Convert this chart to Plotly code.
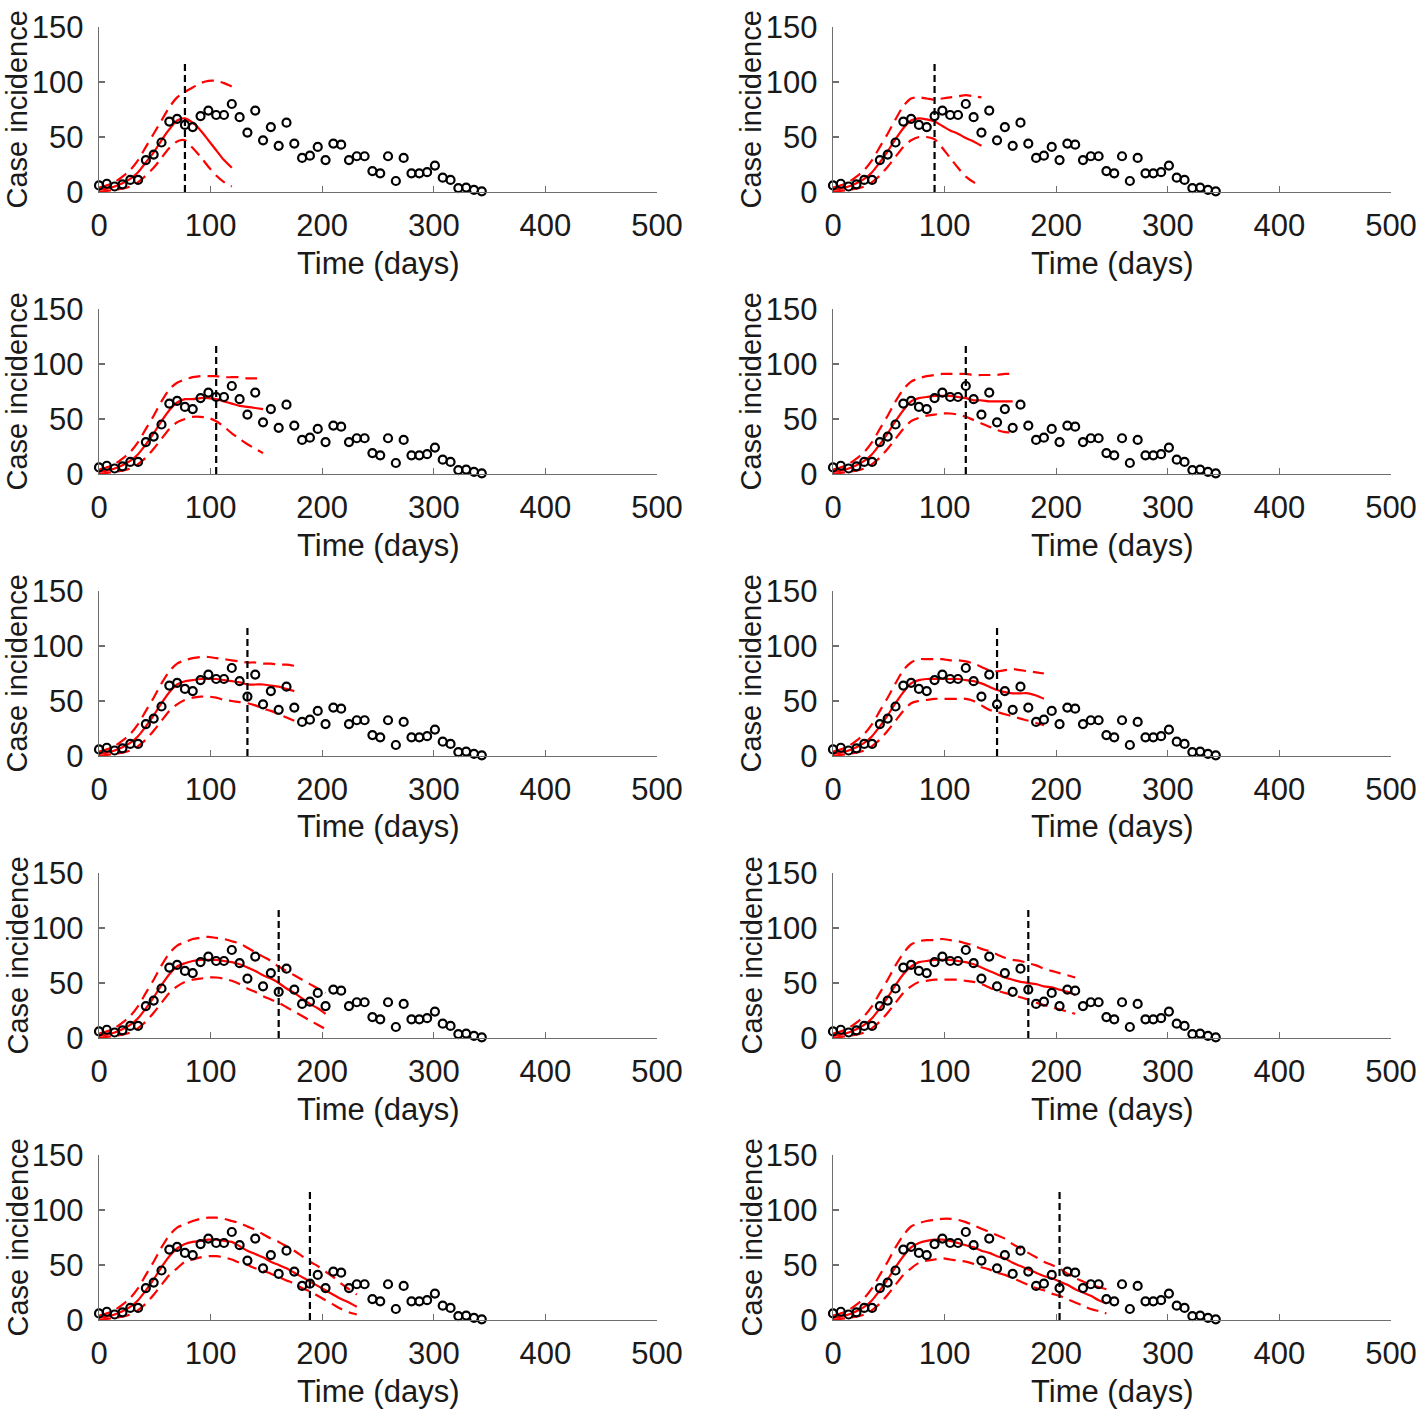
import plotly.graph_objects as go

# ---------------- data ----------------
days = [0, 7, 14, 21, 28, 35, 42, 49, 56, 63, 70, 77, 84, 91, 98, 105, 112, 119,
        126, 133, 140, 147, 154, 161, 168, 175, 182, 189, 196, 203, 210, 217, 224,
        231, 238, 245, 252, 259, 266, 273, 280, 287, 294, 301, 308, 315, 322, 329,
        336, 343]

cases = [6, 7.5, 5, 7, 11, 11, 29, 34, 45, 64, 66.5, 61, 59, 69, 74, 70, 70, 80,
         68, 54, 74, 47, 59, 42, 63, 44, 31, 33, 41, 29, 44, 43, 29, 32.5, 32.5,
         19, 17, 32.5, 10, 31, 17, 17, 18, 24, 13, 11, 3.6, 4, 2, 0.6]

forecast_start = [77, 91, 105, 119, 133, 147, 161, 175, 189, 203]
vline_top = 120

fit_mean = [
    [2, 3, 5, 8, 12, 18, 27, 36, 47, 57, 65, 67, 63, 56, 47, 38, 29, 22],
    [2, 3, 5, 8, 12, 18, 27, 37, 48, 58, 65, 67, 66, 64, 60, 56, 53, 49, 46, 42],
    [2, 3, 5, 8, 12, 18, 27, 37, 48, 58, 65, 68, 68, 69, 69, 68, 66, 64, 62, 61, 60, 59],
    [2, 3, 5, 8, 12, 18, 27, 37, 48, 58, 66, 69, 70, 71, 71, 71, 70, 69, 67, 67, 66, 66, 66, 66],
    [2, 3, 5, 8, 12, 18, 27, 37, 48, 58, 65, 68, 69, 70, 70, 70, 69, 68, 67, 65, 65, 65, 64, 63, 61, 59],
    [2, 3, 5, 8, 12, 18, 27, 37, 48, 58, 66, 69, 70, 70, 70, 70, 70, 69, 68, 66, 63, 60, 58, 57, 57, 57, 55, 52],
    [2, 3, 5, 8, 12, 18, 27, 37, 48, 58, 65, 68, 70, 71, 71, 71, 70, 69, 67, 64, 61, 57, 54, 50, 45, 41, 36, 31, 27, 22],
    [2, 3, 5, 8, 12, 18, 27, 37, 48, 58, 65, 69, 70, 71, 71, 71, 70, 69, 67, 64, 61, 58, 55, 53, 51, 50, 49, 47, 46, 44, 42, 39],
    [2, 3, 5, 8, 12, 18, 27, 37, 48, 58, 65, 69, 71, 72, 73, 73, 72, 71, 67, 63, 60, 57, 53, 50, 47, 43, 39, 35, 31, 27, 23, 19, 16, 12],
    [2, 3, 5, 8, 12, 18, 27, 37, 48, 58, 66, 70, 72, 73, 73, 72, 70, 68, 66, 63, 61, 58, 56, 52, 49, 46, 43, 40, 38, 35, 32, 28, 25, 22, 18, 15],
]

fit_lo = [
    [0, 1, 2, 3, 5, 9, 15, 22, 31, 40, 46, 47, 40, 32, 23, 15, 9, 5],
    [0, 1, 2, 3, 5, 9, 15, 23, 32, 41, 47, 50, 50, 48, 40, 31, 22, 14, 9, 5],
    [0, 1, 2, 3, 5, 9, 15, 23, 32, 41, 47, 50, 52, 52, 51, 48, 43, 37, 32, 27, 23, 19],
    [0, 1, 2, 3, 5, 9, 15, 23, 32, 41, 48, 51, 53, 54, 55, 55, 54, 52, 49, 46, 43, 40, 38, 38],
    [0, 1, 2, 3, 5, 9, 15, 23, 32, 41, 47, 51, 53, 54, 54, 53, 51, 50, 49, 48, 46, 43, 41, 38, 35, 32],
    [0, 1, 2, 3, 5, 9, 15, 23, 32, 41, 48, 50, 51, 52, 52, 52, 52, 52, 50, 46, 42, 40, 38, 36, 34, 32, 30, 28],
    [0, 1, 2, 3, 5, 9, 15, 23, 32, 41, 47, 51, 53, 54, 55, 55, 54, 52, 49, 45, 42, 38, 35, 32, 28, 24, 20, 16, 12, 8],
    [0, 1, 2, 3, 5, 9, 15, 23, 32, 41, 47, 51, 52, 53, 53, 53, 53, 52, 51, 49, 46, 43, 41, 39, 37, 35, 32, 30, 28, 26, 24, 22],
    [0, 1, 2, 3, 5, 9, 15, 23, 32, 41, 47, 53, 55, 57, 58, 58, 57, 55, 52, 50, 47, 45, 42, 39, 36, 33, 29, 26, 22, 18, 14, 10, 7, 5],
    [0, 1, 2, 3, 5, 9, 15, 23, 32, 41, 47, 52, 54, 55, 56, 55, 54, 53, 51, 48, 46, 43, 41, 38, 35, 32, 29, 27, 24, 22, 19, 16, 13, 10, 8, 6],
]

fit_hi = [
    [4, 6, 9, 14, 20, 29, 41, 53, 65, 77, 86, 91, 95, 99, 101, 101, 99, 96],
    [4, 6, 9, 14, 20, 29, 41, 53, 66, 78, 85, 86, 85, 84, 85, 86, 87, 88, 87, 86],
    [4, 6, 9, 14, 20, 29, 41, 53, 66, 77, 83, 86, 88, 89, 89, 89, 88, 88, 88, 87, 87, 87],
    [4, 6, 9, 14, 20, 29, 41, 53, 66, 77, 84, 87, 89, 90, 91, 91, 91, 91, 90, 90, 90, 90, 91, 91],
    [4, 6, 9, 14, 20, 29, 41, 53, 66, 77, 84, 87, 89, 90, 90, 89, 88, 87, 86, 85, 85, 84, 84, 83, 83, 82],
    [4, 6, 9, 14, 20, 29, 41, 53, 66, 78, 85, 88, 88, 88, 88, 87, 87, 86, 84, 81, 78, 77, 78, 79, 78, 77, 76, 75],
    [4, 6, 9, 14, 20, 29, 41, 53, 66, 77, 84, 87, 90, 91, 92, 91, 90, 88, 86, 82, 78, 74, 70, 65, 61, 57, 53, 49, 45, 41],
    [4, 6, 9, 14, 20, 29, 41, 53, 66, 77, 85, 88, 89, 89, 90, 89, 88, 86, 84, 81, 79, 76, 73, 71, 70, 68, 66, 63, 61, 59, 57, 55],
    [4, 6, 9, 14, 20, 29, 41, 53, 66, 77, 84, 87, 90, 92, 93, 93, 92, 90, 88, 85, 82, 78, 74, 71, 67, 63, 58, 53, 49, 44, 39, 33, 28, 23],
    [4, 6, 9, 14, 20, 29, 41, 53, 66, 77, 85, 88, 90, 91, 92, 92, 91, 89, 86, 83, 80, 77, 74, 69, 65, 61, 57, 53, 50, 47, 42, 38, 35, 32, 30, 28],
]

x_ticks = [0, 100, 200, 300, 400, 500]
y_ticks = [0, 50, 100, 150]
x_title = "Time (days)"
y_title = "Case incidence"

# ---------------- layout geometry ----------------
W, H = 1418, 1409
col_left_px = [99, 833]
col_right_px = [657, 1391]
row_top_px = [27, 309, 591, 873, 1155]
row_bot_px = [192, 474, 756, 1038, 1320]

FONT = "Liberation Sans, Arial, Helvetica, sans-serif"
FS = 31
FS_YT = 29
RED = "#ff0000"

fig = go.Figure()
layout = dict(
    template="none",
    width=W, height=H, margin=dict(l=0, r=0, t=0, b=0, autoexpand=False),
    paper_bgcolor="white", plot_bgcolor="white", showlegend=False,
    hovermode=False,
    font=dict(family=FONT, size=FS, color="#1a1a1a"),
)
annotations = []

for k in range(10):
    r, c = k // 2, k % 2
    idx = k + 1
    xa = "x" if idx == 1 else f"x{idx}"
    ya = "y" if idx == 1 else f"y{idx}"
    n = len(fit_mean[k])
    t = days[:n]

    fig.add_trace(go.Scatter(x=t, y=fit_hi[k], mode="lines", xaxis=xa, yaxis=ya,
                             line=dict(color=RED, width=2.2, dash="12px,7px", shape="spline", smoothing=0.8)))
    fig.add_trace(go.Scatter(x=t, y=fit_lo[k], mode="lines", xaxis=xa, yaxis=ya,
                             line=dict(color=RED, width=2.2, dash="12px,7px", shape="spline", smoothing=0.8)))
    fig.add_trace(go.Scatter(x=t, y=fit_mean[k], mode="lines", xaxis=xa, yaxis=ya,
                             line=dict(color=RED, width=2.2, shape="spline", smoothing=0.8)))
    fig.add_trace(go.Scatter(x=days, y=cases, mode="markers", xaxis=xa, yaxis=ya, cliponaxis=False,
                             marker=dict(symbol="circle-open", size=8, color="black",
                                         line=dict(color="black", width=2.2))))
    fig.add_trace(go.Scatter(x=[forecast_start[k], forecast_start[k]], y=[0, vline_top],
                             mode="lines", xaxis=xa, yaxis=ya, cliponaxis=False,
                             line=dict(color="black", width=2.2, dash="7px,4px")))

    x0 = col_left_px[c] / W
    x1 = col_right_px[c] / W
    y0 = 1 - row_bot_px[r] / H
    y1 = 1 - row_top_px[r] / H
    axis_common = dict(showline=True, linecolor="#6e6e6e", linewidth=1.2,
                       ticks="inside", ticklen=6, tickwidth=1.2, tickcolor="#6e6e6e",
                       showgrid=False, zeroline=False, mirror=False, automargin=False,
                       tickfont=dict(family=FONT, size=FS, color="#1a1a1a"),
                       fixedrange=True)
    layout["xaxis" if idx == 1 else f"xaxis{idx}"] = dict(
        domain=[x0, x1], anchor=ya, range=[0, 500], tickvals=x_ticks,
        ticktext=[str(v) for v in x_ticks], ticklabelstandoff=6, **axis_common)
    layout["yaxis" if idx == 1 else f"yaxis{idx}"] = dict(
        domain=[y0, y1], anchor=xa, range=[0, 150], tickvals=y_ticks,
        ticktext=[str(v) for v in y_ticks], ticklabelstandoff=8, **axis_common)

    # axis titles
    annotations.append(dict(text=x_title, xref="paper", yref="paper",
                            x=(x0 + x1) / 2, y=1 - (row_bot_px[r] + 71) / H,
                            xanchor="center", yanchor="middle", showarrow=False,
                            font=dict(family=FONT, size=FS, color="#1a1a1a")))
    annotations.append(dict(text=y_title, xref="paper", yref="paper",
                            x=(col_left_px[c] - 82) / W, y=(y0 + y1) / 2,
                            xanchor="center", yanchor="middle", showarrow=False, textangle=-90,
                            font=dict(family=FONT, size=FS_YT, color="#1a1a1a")))

layout["annotations"] = annotations
fig.update_layout(**layout)
fig.write_html(
    "out.html",
    config={"displayModeBar": False, "staticPlot": True},
    post_script="document.body.style.margin='0';document.body.style.padding='0';"
                "document.documentElement.style.overflow='hidden';",
)
